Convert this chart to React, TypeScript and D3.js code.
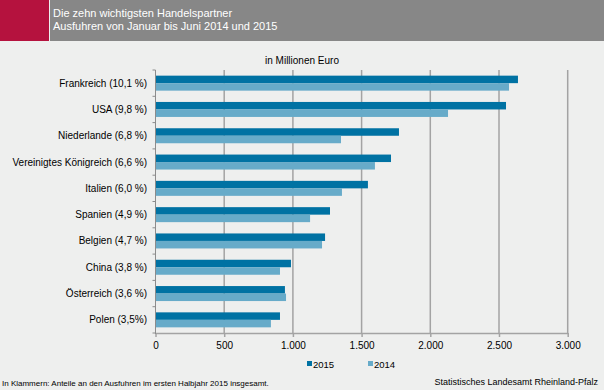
import React, { useEffect, useRef } from "react";
import * as d3 from "d3";

const countries = [
  "Frankreich (10,1 %)",
  "USA (9,8 %)",
  "Niederlande (6,8 %)",
  "Vereinigtes Königreich (6,6 %)",
  "Italien (6,0 %)",
  "Spanien (4,9 %)",
  "Belgien (4,7 %)",
  "China (3,8 %)",
  "Österreich (3,6 %)",
  "Polen (3,5%)",
];
const values2015 = [2638, 2551, 1772, 1714, 1546, 1270, 1234, 986, 942, 906];
const values2014 = [2573, 2129, 1350, 1597, 1357, 1125, 1212, 906, 950, 840];
const seriesNames = ["2015", "2014"];
const xTicks = [0, 500, 1000, 1500, 2000, 2500, 3000];

const App = () => {
  const ref = useRef<SVGSVGElement>(null);

  useEffect(() => {
    const svg = d3.select(ref.current);
    svg.selectAll("*").remove();
    const W = 604, H = 390;
    const font = "'Liberation Sans', Arial, sans-serif";
    const colors = ["#0072a3", "#67abc9"];

    // background + header
    svg.append("rect").attr("width", W).attr("height", H).attr("fill", "#eeefee");
    svg.append("rect").attr("width", 49).attr("height", 41).attr("fill", "#b5123e");
    svg.append("rect").attr("x", 50).attr("width", W - 50).attr("height", 41).attr("fill", "#878787");
    svg.append("text").attr("x", 53).attr("y", 17).attr("fill", "#fff")
      .attr("font-family", font).attr("font-size", 11).text("Die zehn wichtigsten Handelspartner");
    svg.append("text").attr("x", 53).attr("y", 30).attr("fill", "#fff")
      .attr("font-family", font).attr("font-size", 11).text("Ausfuhren von Januar bis Juni 2014 und 2015");

    const x = d3.scaleLinear().domain([0, 3000]).range([155.5, 567.7]);
    const y = d3.scaleBand().domain(countries).range([70, 333]).paddingInner(0.43).paddingOuter(0.215);
    const ySub = d3.scaleBand().domain(seriesNames).range([0, y.bandwidth()]);
    const fmt = d3.formatLocale({ decimal: ",", thousands: ".", grouping: [3], currency: ["", "€"] }).format(",");

    // gridlines
    svg.append("g").selectAll("line").data(xTicks.slice(1)).join("line")
      .attr("x1", (d) => x(d)).attr("x2", (d) => x(d))
      .attr("y1", 70).attr("y2", 333)
      .attr("stroke", "#a3a3a3").attr("stroke-width", 1.5);

    svg.append("text").attr("x", 302).attr("y", 64).attr("text-anchor", "middle")
      .attr("font-family", font).attr("font-size", 10).attr("fill", "#000").text("in Millionen Euro");

    // bars
    const data = countries.map((c, i) => ({ c, vals: [values2015[i], values2014[i]] }));
    const groups = svg.append("g").selectAll("g").data(data).join("g")
      .attr("transform", (d) => `translate(0,${y(d.c)})`);
    groups.selectAll("rect").data((d) => d.vals.map((v, i) => ({ v, s: seriesNames[i], i })))
      .join("rect")
      .attr("x", x(0))
      .attr("y", (d) => ySub(d.s)!)
      .attr("width", (d) => x(d.v) - x(0))
      .attr("height", ySub.bandwidth())
      .attr("fill", (d) => colors[d.i]);

    // bottom axis
    const xAxis = svg.append("g").attr("transform", "translate(0,333)")
      .call(d3.axisBottom(x).tickValues(xTicks).tickSize(4).tickSizeOuter(0).tickPadding(5).tickFormat((d) => fmt(d as number)));
    xAxis.select(".domain").attr("stroke", "#a3a3a3").attr("stroke-width", 1.5);
    xAxis.selectAll(".tick line").attr("stroke", "#a3a3a3").attr("stroke-width", 1.5);
    xAxis.selectAll("text").attr("font-family", font).attr("font-size", 10).attr("fill", "#000");

    // left axis (ticks at category boundaries)
    svg.append("line").attr("x1", x(0)).attr("x2", x(0)).attr("y1", 70).attr("y2", 334)
      .attr("stroke", "#8c8c8c").attr("stroke-width", 1);
    const bounds = countries.map((c) => y(c)! - (y.step() * y.paddingInner()) / 2).concat([333]);
    svg.append("g").selectAll("line").data(bounds).join("line")
      .attr("x1", x(0) - 3).attr("x2", x(0))
      .attr("y1", (d) => d).attr("y2", (d) => d)
      .attr("stroke", "#8c8c8c");
    svg.append("g").selectAll("text").data(countries).join("text")
      .attr("x", 147).attr("y", (d) => y(d)! + y.bandwidth() / 2 + 3.5)
      .attr("text-anchor", "end").attr("font-family", font).attr("font-size", 10).attr("fill", "#000")
      .text((d) => d);

    // legend
    const legendX = [307, 368];
    seriesNames.forEach((s, i) => {
      svg.append("rect").attr("x", legendX[i]).attr("y", 361).attr("width", 5).attr("height", 5).attr("fill", colors[i]);
      svg.append("text").attr("x", legendX[i] + 6).attr("y", 368)
        .attr("font-family", font).attr("font-size", 9.5).attr("fill", "#000").text(s);
    });

    // footnotes
    svg.append("text").attr("x", 2).attr("y", 386).attr("font-family", font).attr("font-size", 8).attr("fill", "#000")
      .text("In Klammern: Anteile an den Ausfuhren im ersten Halbjahr 2015 insgesamt.");
    svg.append("text").attr("x", 598).attr("y", 385).attr("text-anchor", "end")
      .attr("font-family", font).attr("font-size", 9).attr("fill", "#000")
      .text("Statistisches Landesamt Rheinland-Pfalz");
  }, []);

  return (
    <svg
      ref={ref}
      width={604}
      height={390}
      style={{ position: "absolute", left: 0, top: 0 }}
    />
  );
};

export default App;
